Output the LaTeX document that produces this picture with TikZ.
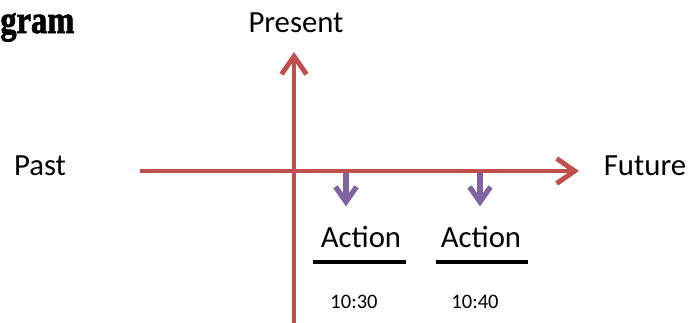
\documentclass[tikz,border=0pt]{standalone}
\usepackage{fontspec}
\setmainfont{Carlito}
\newfontfamily\headfont[BoldFeatures={FakeBold=2}]{Liberation Serif}
\usetikzlibrary{arrows.meta}

\definecolor{axisred}{HTML}{C0504D}
\definecolor{actpurple}{HTML}{8064A2}

\begin{document}
\begin{tikzpicture}[x=0.02cm, y=-0.02cm,
        lbl/.style={anchor=base, inner sep=0pt, font=\fontsize{17.5pt}{20pt}\selectfont},
        timelbl/.style={anchor=base, inner sep=0pt, font=\fontsize{11.7pt}{14pt}\selectfont},
        axis/.style={draw=axisred, line width=2.8pt, -{Straight Barb[length=0.36cm, width=0.5cm]}},
        actarrow/.style={draw=actpurple, line width=3pt, -{Straight Barb[length=0.3cm, width=0.42cm]}},
        bar/.style={draw=black, line width=2.6pt}]
        \useasboundingbox (0, 0) rectangle (690, 322);

        % heading, cut at the left edge
        \node[anchor=base west, inner sep=0pt, font=\headfont\bfseries\fontsize{18.5pt}{20pt}\selectfont] at (0, 33) (title) {\scalebox{1}[1.2]{gram}};

        \node[lbl] at (296, 32) (present) {Present};
        \node[lbl] at (40, 175) (past) {Past};
        \node[lbl] at (645, 175) (future) {Future};

        \coordinate (hstart) at (140, 171);
        \coordinate (hend) at (579, 171);
        \coordinate (vbottom) at (294, 330);
        \coordinate (vtop) at (294, 52);

        \draw[axis] (hstart) -- (hend);
        \draw[axis] (vbottom) -- (vtop);

        \node[lbl] at (361, 247) (action1) {Action};
        \node[lbl] at (481, 247) (action2) {Action};

        \coordinate (t1) at (346, 173);
        \coordinate (t2) at (480, 173);
        \draw[actarrow] (t1) -- ([yshift=0.38cm] t1 |- action1.north);
        \draw[actarrow] (t2) -- ([yshift=0.38cm] t2 |- action2.north);

        \draw[bar] (313, 262) -- (406, 262);
        \draw[bar] (436, 262) -- (528, 262);

        \node[timelbl] at (354, 308) (time1) {10:30};
        \node[timelbl] at (475, 308) (time2) {10:40};

        \end{tikzpicture}
\end{document}
